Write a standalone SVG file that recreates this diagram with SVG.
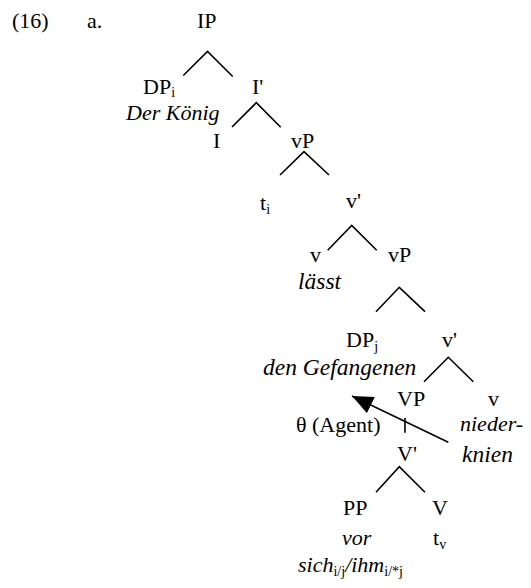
<svg xmlns="http://www.w3.org/2000/svg" width="531" height="588" viewBox="0 0 531 588">
<style>
.it{font-style:italic}
.big{font-size:23.5px}
.sub{font-size:14px;font-style:normal}
.br{fill:none;stroke:#000;stroke-width:1.6}
</style>
<defs>
<marker id="ah" markerUnits="userSpaceOnUse" markerWidth="22" markerHeight="19" refX="21" refY="9" orient="auto">
<path d="M0,0 L21,9 L0,18 Z" fill="#000"/>
</marker>
</defs>
<rect width="531" height="588" fill="#fff"/>
<g font-family="Liberation Serif" font-size="22">
<g id="label"><text x="12" y="28">(16)</text><text x="87" y="28">a.</text></g>
<g id="n-IP"><text x="197" y="28">IP</text></g>
<g id="n-DPi"><text x="143" y="94">DP<tspan class="sub" dy="3">i</tspan></text><text class="it" x="126" y="120">Der König</text></g>
<g id="n-I1"><text x="252" y="94">I'</text></g>
<g id="n-I"><text x="213" y="148">I</text></g>
<g id="n-vP1"><text x="291" y="148">vP</text></g>
<g id="n-ti"><text x="260" y="210">t<tspan class="sub" dy="4">i</tspan></text></g>
<g id="n-v1"><text x="346" y="208">v'</text></g>
<g id="n-v"><text x="310" y="262">v</text><text class="it big" x="298" y="289">lässt</text></g>
<g id="n-vP2"><text x="388" y="262">vP</text></g>
<g id="n-DPj"><text x="346" y="347">DP<tspan class="sub" dy="4">j</tspan></text><text class="it big" x="263" y="375">den Gefangenen</text></g>
<g id="n-v2"><text x="442" y="347">v'</text></g>
<g id="n-VP"><text x="397" y="406">VP</text></g>
<g id="n-v3"><text x="488" y="406">v</text><text class="it" x="460" y="431">nieder-</text><text class="it big" x="462" y="462">knien</text></g>
<g id="n-theta"><text x="296" y="432">θ (Agent)</text></g>
<g id="n-V1"><text x="397" y="461">V'</text></g>
<g id="n-PP"><text x="343" y="515">PP</text><text class="it" x="342" y="545">vor</text><text class="it" x="298" y="572">sich<tspan class="sub" dy="4">i/j</tspan><tspan dy="-4">/ihm</tspan><tspan class="sub" dy="4">i/*j</tspan></text></g>
<g id="n-V"><text x="432" y="515">V</text><text x="433" y="545">t<tspan class="sub" dy="4">v</tspan></text></g>
</g>
<g id="connectors">
<polyline class="br" points="183.3,75.5 207.5,51.5 232.7,76.5"/>
<polyline class="br" points="232,127 256.3,102.7 280.7,127.3"/>
<polyline class="br" points="280,175 304,151.7 329,175"/>
<polyline class="br" points="327.7,250.3 351.7,225.5 376.7,250.3"/>
<polyline class="br" points="376,311.7 399.3,287.3 425,311.7"/>
<polyline class="br" points="424,381.7 448.3,357.3 473.3,381.7"/>
<line class="br" x1="405" y1="418" x2="405" y2="432.7"/>
<polyline class="br" points="376,492.3 399.3,466.7 425,492.3"/>
<line class="br" x1="448.3" y1="442.3" x2="352" y2="396" marker-end="url(#ah)"/>
</g>
</svg>
